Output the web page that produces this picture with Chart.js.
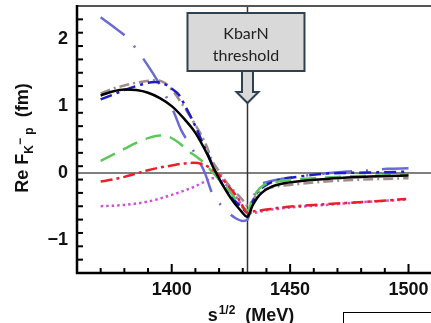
<!DOCTYPE html>
<html><head><meta charset="utf-8">
<script src="https://cdn.jsdelivr.net/npm/chart.js@4/dist/chart.umd.min.js"></script>
<style>html,body{margin:0;padding:0;background:#fff;}#wrap{width:431px;height:323px;}</style>
</head><body><div id="wrap"><canvas id="c" width="431" height="323"></canvas></div>
<script>
// ---- axes ----
const xMin = 1360, xMax = 1509.5, yMin = -1.5, yMax = 2.5;
const xTickValues = [1400, 1450, 1500];
const yTickValues = [-1, 0, 1, 2];
const thresholdMeV = 1432;
const thresholdLabel = ['KbarN', 'threshold'];

// ---- series (x in MeV, y = Re F in fm) ----
const blackX = [1370,1375,1380,1385,1390,1395,1400,1405,1410,1415,1418,1421,1425,1429,1432,1434,1436,1438,1442,1447,1453,1462,1474,1488,1500];
const blackY = [1.16,1.22,1.25,1.24,1.20,1.12,1.00,0.82,0.60,0.28,0.05,-0.15,-0.38,-0.56,-0.66,-0.50,-0.38,-0.30,-0.21,-0.16,-0.13,-0.10,-0.07,-0.05,-0.04];

const slateX = [1370,1375,1381,1386,1391,1395,1398,1401,1404,1407,1410,1414,1417,1420,1424,1427,1430,1432,1434,1436,1440,1450,1462,1474,1485,1491,1500];
const slateY = [2.33,2.20,2.03,1.81,1.55,1.32,1.12,0.90,0.64,0.46,0.28,0.00,-0.30,-0.45,-0.60,-0.68,-0.72,-0.70,-0.45,-0.22,-0.14,-0.07,-0.02,0.02,0.04,0.06,0.07];

const navyX = [1370,1375,1380,1385,1390,1393,1397,1400,1403,1406,1410,1413,1415,1418,1421,1425,1429,1432,1434,1436,1440,1446,1455,1465,1474,1490,1500];
const navyY = [1.10,1.17,1.24,1.30,1.35,1.36,1.33,1.26,1.17,0.98,0.70,0.45,0.30,0.05,-0.15,-0.35,-0.50,-0.58,-0.45,-0.30,-0.18,-0.10,-0.05,-0.01,0.00,0.01,0.02];

const brownX = [1370,1375,1380,1385,1390,1393,1397,1400,1405,1410,1412,1415,1417,1420,1424,1428,1431,1432,1434,1436,1439,1445,1453,1465,1474,1490,1500];
const brownY = [1.19,1.26,1.31,1.35,1.38,1.39,1.35,1.25,1.00,0.72,0.60,0.38,0.19,0.02,-0.18,-0.33,-0.45,-0.50,-0.42,-0.32,-0.25,-0.20,-0.17,-0.13,-0.11,-0.09,-0.08];

const greenX = [1370,1375,1380,1385,1390,1395,1398,1403,1407,1412,1417,1420,1425,1429,1432,1434,1436,1439,1445,1455,1470,1485,1500];
const greenY = [0.18,0.27,0.36,0.45,0.52,0.56,0.55,0.45,0.33,0.20,0.02,-0.10,-0.30,-0.48,-0.56,-0.42,-0.28,-0.18,-0.13,-0.09,-0.06,-0.04,-0.03];

const redX = [1370,1375,1380,1386,1390,1395,1400,1405,1409,1413,1416,1420,1424,1428,1430,1432,1434,1440,1446,1460,1474,1488,1499];
const redY = [-0.13,-0.10,-0.06,0.00,0.04,0.08,0.11,0.14,0.15,0.13,0.08,-0.03,-0.20,-0.38,-0.50,-0.60,-0.58,-0.55,-0.52,-0.48,-0.45,-0.42,-0.39];

const magentaX = [1370,1380,1390,1400,1405,1410,1414,1417,1420,1424,1428,1432,1434,1440,1450,1465,1480,1499];
const magentaY = [-0.50,-0.48,-0.43,-0.33,-0.27,-0.20,-0.13,-0.08,-0.08,-0.22,-0.40,-0.60,-0.60,-0.56,-0.52,-0.48,-0.44,-0.40];

function pts(xs, ys){ return xs.map((v,i)=>({x:v, y:ys[i]})); }
function ds(xs, ys, color, dash, width){
  return {data: pts(xs,ys), borderColor: color, borderDash: dash, borderWidth: width,
          pointRadius: 0, fill: false, cubicInterpolationMode: 'monotone', borderCapStyle:'butt'};
}

const decor = {
  id: 'decor',
  beforeDatasetsDraw(chart){
    const {ctx, chartArea:a, scales:{x, y}} = chart;
    ctx.save();
    const y0 = y.getPixelForValue(0);
    ctx.strokeStyle = '#555'; ctx.lineWidth = 1.5;
    ctx.beginPath(); ctx.moveTo(a.left, y0); ctx.lineTo(a.right, y0); ctx.stroke();
    const xt = x.getPixelForValue(thresholdMeV);
    ctx.strokeStyle = '#333';
    ctx.beginPath(); ctx.moveTo(xt, a.top); ctx.lineTo(xt, a.bottom); ctx.stroke();
    ctx.restore();
  },
  afterDatasetsDraw(chart){
    const {ctx, chartArea:a, scales:{x, y}} = chart;
    ctx.save();
    ctx.strokeStyle = '#555'; ctx.lineWidth = 2;
    ctx.beginPath(); ctx.moveTo(a.left, a.top); ctx.lineTo(431, a.top); ctx.stroke();
    ctx.strokeStyle = '#000'; ctx.lineWidth = 2.5;
    ctx.beginPath(); ctx.moveTo(a.left, a.top - 1); ctx.lineTo(a.left, a.bottom); ctx.lineTo(431, a.bottom); ctx.stroke();
    ctx.lineWidth = 2;
    for (let v = xMin + 10; v <= xMax; v += 10){
      const px = x.getPixelForValue(v);
      const major = xTickValues.includes(v);
      ctx.beginPath(); ctx.moveTo(px, a.bottom); ctx.lineTo(px, a.bottom - (major ? 9 : 5)); ctx.stroke();
    }
    for (let k = 1; k < Math.round((yMax - yMin)/0.2); k++){
      const v = Math.round((yMin + k*0.2)*10)/10;
      const py = y.getPixelForValue(v);
      const major = yTickValues.includes(v);
      ctx.beginPath(); ctx.moveTo(a.left, py); ctx.lineTo(a.left + (major ? 10 : 6), py); ctx.stroke();
    }
    const xt = x.getPixelForValue(thresholdMeV);
    ctx.fillStyle = '#d9d9d9'; ctx.strokeStyle = '#2f4050'; ctx.lineWidth = 2;
    const bl = xt - 60, br = xt + 57, bt = a.top + 7, bb = a.top + 65;
    ctx.fillRect(bl, bt, br - bl, bb - bt); ctx.strokeRect(bl, bt, br - bl, bb - bt);
    ctx.beginPath();
    ctx.moveTo(xt - 5.5, bb); ctx.lineTo(xt - 5.5, bb + 21); ctx.lineTo(xt - 11, bb + 21);
    ctx.lineTo(xt, bb + 32); ctx.lineTo(xt + 11, bb + 21); ctx.lineTo(xt + 5.5, bb + 21);
    ctx.lineTo(xt + 5.5, bb); ctx.closePath(); ctx.fill(); ctx.stroke();
    ctx.fillStyle = '#222'; ctx.font = '16px Lato'; ctx.textAlign = 'center'; ctx.textBaseline = 'alphabetic';
    const cx = (bl + br)/2;
    ctx.fillText(thresholdLabel[0], cx, bt + 26);
    ctx.fillText(thresholdLabel[1], cx, bt + 48);
    ctx.fillStyle = '#111'; ctx.textAlign = 'left';
    const big = 'bold 18px "Liberation Sans"', small = 'bold 12px "Liberation Sans"';
    const parts = [['s', big, 0], ['1/2', small, -7], ['  (MeV)', big, 0]];
    let w = 0; parts.forEach(p => { ctx.font = p[1]; w += ctx.measureText(p[0]).width + (p[0]==='s'?1:0); });
    let sx = 251 - w/2;
    parts.forEach(p => { ctx.font = p[1]; ctx.fillText(p[0], sx, 321 + p[2]); sx += ctx.measureText(p[0]).width + (p[0]==='s'?1:0); });
    ctx.save();
    ctx.translate(28, 138); ctx.rotate(-Math.PI/2);
    const yparts = [['Re F', big, 0], ['K', small, 5], ['\u2212', small, -4], [' p', small, 5], ['  (fm)', big, 0]];
    let yw = 0; yparts.forEach(p => { ctx.font = p[1]; yw += ctx.measureText(p[0]).width; });
    let sy = -yw/2;
    yparts.forEach(p => { ctx.font = p[1]; ctx.fillText(p[0], sy, p[2]); sy += ctx.measureText(p[0]).width; });
    ctx.restore();
    ctx.strokeStyle = '#000'; ctx.lineWidth = 1;
    ctx.strokeRect(343.5, 312.5, 100, 30);
    ctx.restore();
  }
};

new Chart(document.getElementById('c'), {
  type: 'line',
  data: { datasets: [
    ds(blackX, blackY, '#000000', [], 2.5),
    ds(redX, redY, '#e8202a', [12,4,3,4], 2.5),
    ds(greenX, greenY, '#5cc85c', [16,9], 2.5),
    ds(navyX, navyY, '#1c1cc8', [12,5,3,5], 2.5),
    ds(brownX, brownY, '#a08c8c', [10,4,2,4], 2.5),
    ds(slateX, slateY, '#6a6ad4', [30,14,2,14], 2.5),
    ds(magentaX, magentaY, '#d050d8', [2.5,3], 2.5)
  ]},
  options: {
    responsive: false, animation: false, events: [],
    layout: { padding: { top: 6, right: 0, left: 0, bottom: 0 } },
    plugins: { legend: { display: false }, tooltip: { enabled: false } },
    scales: {
      x: {
        type: 'linear', min: xMin, max: xMax,
        afterBuildTicks: s => { s.ticks = xTickValues.map(v => ({value: v})); },
        afterFit: s => { s.height = 50; s.paddingLeft = 0; s.paddingRight = 0; },
        grid: { display: false, drawTicks: false }, border: { display: false },
        ticks: { autoSkip: false, maxRotation: 0, padding: 6, color: '#111',
                 font: { family: '"Liberation Sans"', size: 18, weight: 'bold' },
                 callback: v => String(v) }
      },
      y: {
        type: 'linear', min: yMin, max: yMax,
        afterBuildTicks: s => { s.ticks = yTickValues.map(v => ({value: v})); },
        afterFit: s => { s.width = 77; s.paddingTop = 0; s.paddingBottom = 0; },
        grid: { display: false, drawTicks: false }, border: { display: false },
        ticks: { autoSkip: false, padding: 9, color: '#111',
                 font: { family: '"Liberation Sans"', size: 18, weight: 'bold' },
                 callback: v => v < 0 ? '\u2212' + Math.abs(v) : String(v) }
      }
    }
  },
  plugins: [decor]
});
</script></body></html>
